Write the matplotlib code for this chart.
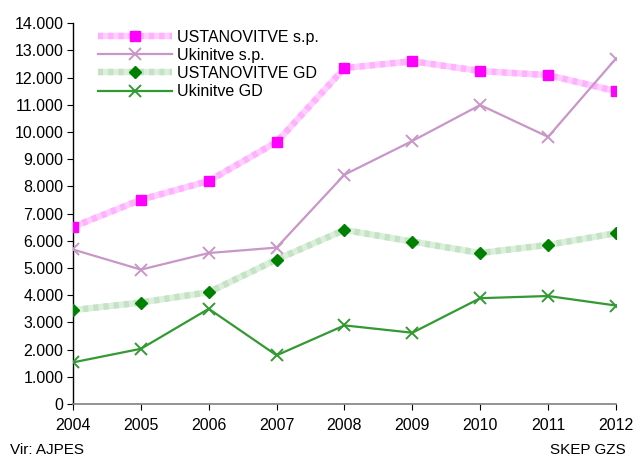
import numpy as np
import matplotlib.pyplot as plt
from matplotlib.ticker import FuncFormatter, MultipleLocator
from matplotlib.legend_handler import HandlerTuple

plt.rcParams['font.family'] = ['Liberation Sans', 'DejaVu Sans']

years = [2004, 2005, 2006, 2007, 2008, 2009, 2010, 2011, 2012]
ust_sp = [6510, 7510, 8200, 9630, 12350, 12600, 12240, 12090, 11500]
ukin_sp = [5680, 4940, 5550, 5750, 8430, 9670, 10990, 9820, 12700]
ust_gd = [3450, 3730, 4110, 5310, 6400, 5970, 5550, 5850, 6280]
ukin_gd = [1530, 2030, 3500, 1790, 2890, 2620, 3890, 3970, 3620]

fig = plt.figure(figsize=(6.35, 4.63), dpi=100)
ax = fig.add_axes([0.115, 0.1274, 0.855, 0.8226])

# wide pale bands with a fine striped texture
def band(y, base, stripe, mcol, marker, ms):
    l1, = ax.plot(years, y, color=base, lw=4.6, solid_capstyle='butt', zorder=2)
    l2, = ax.plot(years, y, color=stripe, lw=4.6, dashes=(0.8, 0.8),
                  dash_capstyle='butt', zorder=2)
    l3, = ax.plot(years, y, ls='none', marker=marker, ms=ms, color=mcol,
                  zorder=4)
    return (l1, l2, l3)

h1 = band(ust_sp, '#ffd0ff', '#ffb0ff', '#ff00ff', 's', 7)
h2, = ax.plot(years, ukin_sp, color='#c896c8', lw=1.6, marker='x', ms=9,
              mew=1.4, zorder=3)
h3 = band(ust_gd, '#dcefdc', '#c4e2c4', '#008000', 'D', 6)
h4, = ax.plot(years, ukin_gd, color='#339933', lw=1.6, marker='x', ms=9,
              mew=1.4, zorder=3)

ax.set_xlim(2004, 2012)
ax.set_ylim(0, 14000)
ax.yaxis.set_major_locator(MultipleLocator(1000))
ax.yaxis.set_major_formatter(FuncFormatter(lambda v, p: f'{int(v):,}'.replace(',', '.')))
ax.set_xticks(years)

for s in ['top', 'right']:
    ax.spines[s].set_visible(False)
ax.spines['left'].set_color('black')
ax.spines['bottom'].set_color('#808080')
ax.spines['left'].set_linewidth(1)
ax.spines['bottom'].set_linewidth(1.2)
ax.tick_params(axis='both', labelsize=11.5, colors='black', length=4, pad=3)
ax.tick_params(axis='x', pad=6)

ax.legend([h1, h2, h3, h4],
          ['USTANOVITVE s.p.', 'Ukinitve s.p.', 'USTANOVITVE GD', 'Ukinitve GD'],
          handler_map={tuple: HandlerTuple(ndivide=1, pad=0)},
          loc='upper left', bbox_to_anchor=(0.035, 1.0), frameon=False,
          fontsize=11.5, handlelength=4.6, handletextpad=0.35,
          labelspacing=0.2, borderaxespad=0)

fig.text(0.015, 0.012, 'Vir: AJPES', fontsize=11, ha='left', va='bottom')
fig.text(0.985, 0.012, 'SKEP GZS', fontsize=11, ha='right', va='bottom')

fig.savefig('out.png', dpi=100)
